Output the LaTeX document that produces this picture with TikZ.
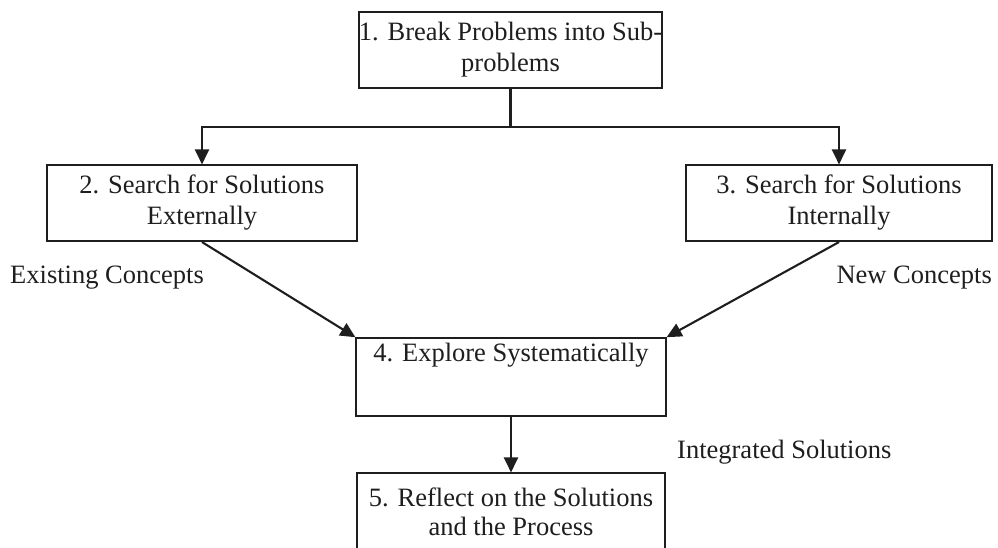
\documentclass[tikz,border=0pt]{standalone}
\usepackage{fontspec}
\setmainfont{Liberation Serif}
\usetikzlibrary{arrows.meta}
\definecolor{ink}{HTML}{1E1E1E}
\begin{document}
\begin{tikzpicture}[x=1pt,y=-1pt,
  font=\fontsize{26.5}{31}\selectfont,
  every node/.style={text=ink},
  stepbox/.style={draw=ink, line width=2.1pt, fill=white, align=center, inner sep=0pt},
  link/.style={draw=ink, line width=2.1pt},
  arrowlink/.style={link, -{Triangle[length=15pt,width=14pt]}, shorten >=-0.5pt},
  caption/.style={inner sep=0pt}]
\useasboundingbox[fill=white] (0,0) rectangle (998,548);

% process boxes
\node[stepbox, minimum width=299pt, minimum height=76pt] (b1) at (510.5,50)
  {1. Break Problems into Sub-\\problems};
\node[stepbox, minimum width=310pt, minimum height=76pt] (b2) at (202,203)
  {2. Search for Solutions\\Externally};
\node[stepbox, minimum width=306pt, minimum height=76pt] (b3) at (839,203)
  {3. Search for Solutions\\Internally};
\node[stepbox, minimum width=310pt, minimum height=78pt] (b4) at (511,377) {};
\node[caption, anchor=north] (t4) at ([yshift=-6pt]b4.north)
  {4. Explore Systematically};
\node[stepbox, minimum width=308pt, minimum height=84pt] (b5) at (511,515)
  {\raisebox{6pt}{\begin{tabular}{@{}c@{}}5. Reflect on the Solutions\\[-2pt]and the Process\end{tabular}}};

% side captions
\node[caption, anchor=west] (c1) at (10,278) {Existing Concepts};
\node[caption, anchor=east] (c2) at (992,278) {New Concepts};
\node[caption, anchor=west] (c3) at (677,452) {Integrated Solutions};

% branching connector from step 1
\coordinate (split) at (510.5,127);
\coordinate (jl) at (202,127);
\coordinate (jr) at (839,127);
\draw[link] (b1.south) -- (split);
\draw[link, line cap=rect] (jl) -- (jr);
\draw[arrowlink] (jl) -- (b2.north);
\draw[arrowlink] (jr) -- (b3.north);

% converging connectors into step 4
\draw[arrowlink] (b2.south) -- (b4.north west);
\draw[arrowlink] (b3.south) -- (b4.north east);

% step 4 to step 5
\draw[arrowlink] (b4.south) -- (b5.north);
\end{tikzpicture}
\end{document}
